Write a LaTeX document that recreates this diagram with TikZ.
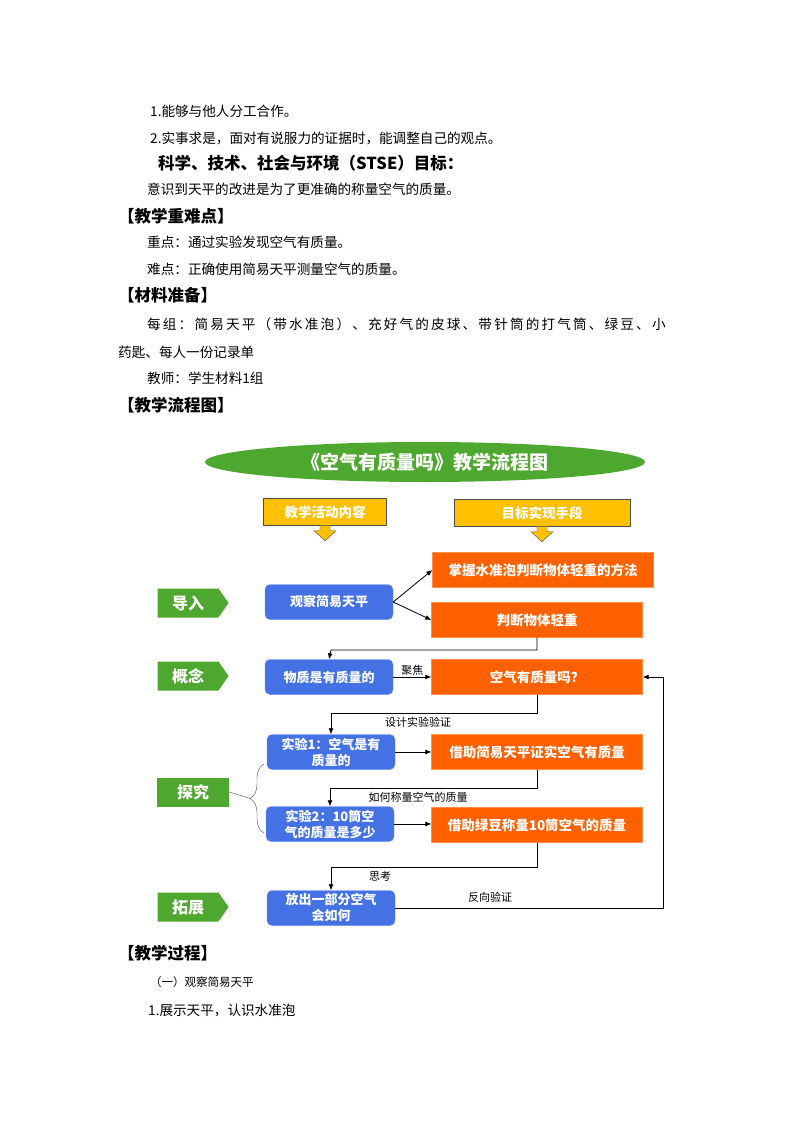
\documentclass[tikz,border=0pt]{standalone}
\usepackage{fontspec}
\setmainfont{Noto Sans CJK SC}
\usetikzlibrary{arrows.meta,positioning,shapes.symbols,shapes.geometric,decorations.pathreplacing}
\definecolor{tagGreen}{HTML}{4EA72E}
\definecolor{boxBlue}{HTML}{4472E4}
\definecolor{boxOrange}{HTML}{FF6000}
\definecolor{boxYellow}{HTML}{FFC000}
\tikzset{bodytext/.style={anchor=west,inner sep=0,font=\fontsize{13.6}{16}\selectfont},
    headtext/.style={anchor=west,inner sep=0,font=\fontsize{16.5}{18}\selectfont\bfseries},
    bluebox/.style={draw=boxBlue!80!white,fill=boxBlue,rounded corners=5pt,minimum width=128pt,minimum height=35pt,text=white,align=center,font=\fontsize{13}{16}\selectfont\bfseries,inner sep=1pt},
    orangebox/.style={draw=boxOrange!70!white,fill=boxOrange,minimum width=211pt,minimum height=35pt,text=white,font=\fontsize{13.5}{16}\selectfont\bfseries,inner sep=1pt},
    yellowbox/.style={draw=black!70,fill=boxYellow,minimum height=27pt,text=white,font=\fontsize{13.5}{16}\selectfont\bfseries},
    greentag/.style={fill=tagGreen,text=white,minimum width=71pt,minimum height=29pt,font=\fontsize{16}{18}\selectfont\bfseries,inner sep=1pt},
    tagarrow/.style={greentag,signal,signal to=east,signal pointer angle=110},
    link/.style={-{Latex[length=6pt,width=5pt]},thick},
    linklabel/.style={font=\fontsize{11}{13}\selectfont,inner sep=1pt}
}
\begin{document}
\begin{tikzpicture}[x=1pt,y=-1pt]
\useasboundingbox[fill=white] (0,0) rectangle (793,1123);

% text above the chart
\node (l1) [bodytext] at (150,111) {1.能够与他人分工合作。};
\node (l2) [bodytext] at (150,138) {2.实事求是，面对有说服力的证据时，能调整自己的观点。};
\node (l3) [headtext] at (158,163) {科学、技术、社会与环境（STSE）目标：};
\node (l4) [bodytext] at (147,189) {意识到天平的改进是为了更准确的称量空气的质量。};
\node (l5) [headtext] at (118,216) {【教学重难点】};
\node (l6) [bodytext] at (147,242) {重点：通过实验发现空气有质量。};
\node (l7) [bodytext] at (147,269) {难点：正确使用简易天平测量空气的质量。};
\node (l8) [headtext] at (118,295) {【材料准备】};
\node (l9) [bodytext] at (147,324) {\addfontfeature{LetterSpace=16}每组：简易天平（带水准泡）、充好气的皮球、带针筒的打气筒、绿豆、小};
\node (l10) [bodytext] at (118,352) {药匙、每人一份记录单};
\node (l11) [bodytext] at (147,378) {教师：学生材料1组};
\node (l12) [headtext] at (118,405) {【教学流程图】};

% chart
\node (title) [ellipse,fill=tagGreen,minimum width=440pt,minimum height=40pt,text=white,font=\fontsize{19}{21}\selectfont\bfseries] at (425,462) {《空气有质量吗》教学流程图};
\node (colA) [yellowbox,minimum width=123pt] at (325,512) {教学活动内容};
\node (colB) [yellowbox,minimum width=176pt] at (542,513) {目标实现手段};
\foreach \c in {colA,colB}
    \draw [draw=black!70,fill=boxYellow] ([xshift=-5pt]\c.south) -- ++(0,5) -- ++(-6,0) -- ++(11,10) -- ++(11,-10) -- ++(-6,0) -- ++(0,-5);

\node (tagA) [tagarrow] at (188,603) {导入};
\node (tagB) [tagarrow] at (188,676) {概念};
\node (tagC) [greentag,minimum width=72pt] at (193,792) {探究};
\node (tagD) [tagarrow] at (188,907) {拓展};

\node (obs) [bluebox] at (329,602) {观察简易天平};
\node (mat) [bluebox] at (329,677) {物质是有质量的};
\node (exa) [bluebox] at (331,752) {实验1：空气是有\\质量的};
\node (exb) [bluebox] at (330,824) {实验2：10筒空\\气的质量是多少};
\node (rel) [bluebox] at (331,908) {放出一部分空气\\会如何};

\node (goalA) [orangebox,minimum width=221pt] at (543,570) {掌握水准泡判断物体轻重的方法};
\node (goalB) [orangebox] at (537,620) {判断物体轻重};
\node (goalC) [orangebox] at (537,677) {空气有质量吗？};
\node (goalD) [orangebox] at (537,752) {借助简易天平证实空气有质量};
\node (goalE) [orangebox] at (537,825) {借助绿豆称量10筒空气的质量};

\draw [link] (obs.east) -- (goalA.west);
\draw [link] (obs.east) -- (goalB.west);
\draw [link] (goalB.south) |- (331,650) -- (mat.north);
\draw [link] (mat) -- node [linklabel,above] {聚焦} (goalC);
\draw [link] (goalC.south) |- (331,713) -- (exa.north);
\node (lblA) [linklabel] at (418,722) {设计实验验证};
\draw [link] (exa) -- (exa -| goalD.west);
\draw [link] (goalD.south) |- (330,788) -- (exb.north);
\node (lblB) [linklabel] at (418,797) {如何称量空气的质量};
\draw [link] (exb) -- (exb -| goalE.west);
\draw [link] (goalE.south) |- (331,867) -- (rel.north);
\node (lblC) [linklabel] at (380,876) {思考};
\draw [link] (rel.east) -| (663,677) -- (goalC.east);
\node (lblD) [linklabel] at (490,897) {反向验证};
\coordinate (bb) at (264,833);
\coordinate (bt) at (264,764);
\draw [thin,black!70,decorate,decoration={brace,amplitude=14pt,aspect=0.5}] (bb) -- (bt);
\draw [thin,black!70] (tagC.east) -- (250,798.5);

% text below the chart
\node (l13) [headtext] at (118,953) {【教学过程】};
\node (l14) [bodytext,font=\fontsize{11.5}{13}\selectfont] at (150,982) {（一）观察简易天平};
\node (l15) [bodytext] at (148,1010) {1.展示天平，认识水准泡};
\end{tikzpicture}
\end{document}
